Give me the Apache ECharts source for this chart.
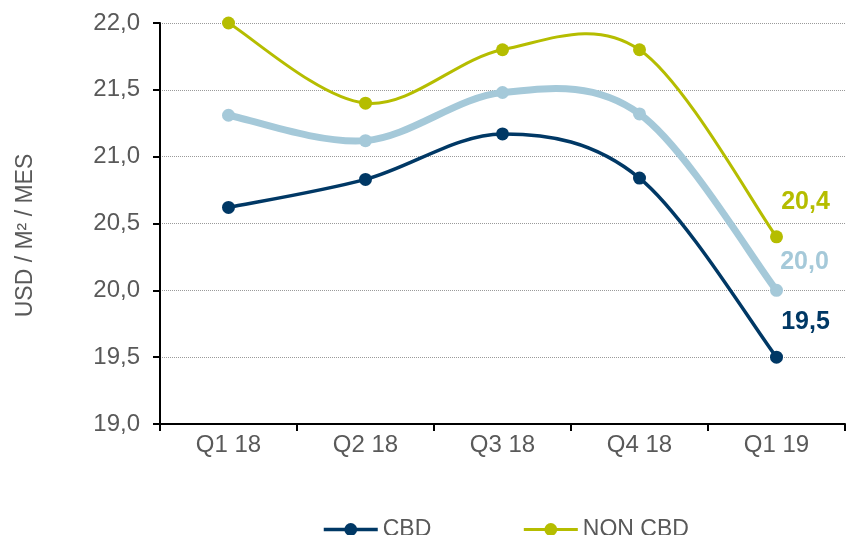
<!DOCTYPE html>
<html>
<head>
<meta charset="utf-8">
<script src="https://cdn.jsdelivr.net/npm/echarts@6/dist/echarts.min.js"></script>
<style>
html,body{margin:0;padding:0;background:#fff;}
#main{width:848px;height:535px;}
</style>
</head>
<body>
<div id="main"></div>
<script>
//数据
var categories = ['Q1 18', 'Q2 18', 'Q3 18', 'Q4 18', 'Q1 19'];
var cbd = [20.62, 20.83, 21.17, 20.84, 19.5];
var total = [21.31, 21.12, 21.48, 21.32, 20.0];
var nonCbd = [22.0, 21.4, 21.8, 21.8, 20.4];
var yTicks = [19.0, 19.5, 20.0, 20.5, 21.0, 21.5, 22.0];

var colors = { cbd: '#003865', total: '#a5c9d9', nonCbd: '#b5bd00' };

var chart = echarts.init(document.getElementById('main'));
var font = 'Liberation Sans, Arial, sans-serif';
var gray = '#595959';

//只在最后一个点显示数值
function lastLabel(arr, color, offset){
	return arr.map(function(v, i){
		if (i !== arr.length - 1) return v;
		return {
			value: v,
			label: {
				show: true,
				position: 'inside',
				offset: offset,
				color: color,
				fontSize: 25,
				fontWeight: 'bold',
				fontFamily: font,
				formatter: function(p){ return p.value.toFixed(1).replace('.', ','); }
			}
		};
	});
}

//点和标签（线本身由下面的平滑曲线画）
function pointSeries(name, arr, color, offset, z){
	return {
		name: name,
		type: 'line',
		symbol: 'circle',
		symbolSize: 13,
		z: z,
		lineStyle: { color: color, opacity: 0 },
		itemStyle: { color: color },
		data: lastLabel(arr, color, offset)
	};
}

//类似 Excel 的平滑曲线 (Catmull-Rom -> bezier)
function curveSeries(arr, color, width, z){
	return {
		type: 'custom',
		z: z,
		silent: true,
		data: arr.map(function(v, i){ return [i, v]; }),
		renderItem: function(params, api){
			if (params.dataIndex !== 0) return null;
			var p = arr.map(function(v, i){ return api.coord([i, v]); });
			var d = 'M' + p[0][0] + ' ' + p[0][1];
			for (var i = 0; i < p.length - 1; i++){
				var p0 = p[Math.max(i - 1, 0)], p1 = p[i], p2 = p[i + 1], p3 = p[Math.min(i + 2, p.length - 1)];
				var c1x = p1[0] + (p2[0] - p0[0]) / 6, c1y = p1[1] + (p2[1] - p0[1]) / 6;
				var c2x = p2[0] - (p3[0] - p1[0]) / 6, c2y = p2[1] - (p3[1] - p1[1]) / 6;
				d += ' C' + c1x + ' ' + c1y + ' ' + c2x + ' ' + c2y + ' ' + p2[0] + ' ' + p2[1];
			}
			return {
				type: 'path',
				shape: { pathData: d },
				style: { fill: null, stroke: color, lineWidth: width, lineJoin: 'round', lineCap: 'round' }
			};
		}
	};
}

var option = {
	backgroundColor: '#fff',
	animation: false,
	grid: { left: 160, right: 3, top: 23, bottom: 111 },
	legend: {
		data: [
			{ name: 'CBD', lineStyle: { opacity: 1, width: 3.5, color: colors.cbd } },
			{ name: 'NON CBD', lineStyle: { opacity: 1, width: 3, color: colors.nonCbd } }
		],
		left: 322,
		top: 518,
		padding: 0,
		itemWidth: 54,
		itemHeight: 16,
		itemGap: 91,
		textStyle: { color: gray, fontSize: 23, fontFamily: font }
	},
	xAxis: {
		type: 'category',
		data: categories,
		boundaryGap: true,
		axisLine: { lineStyle: { color: '#000', width: 2 } },
		axisTick: { show: true, length: 7, lineStyle: { color: '#000', width: 2 } },
		axisLabel: { color: gray, fontSize: 24, fontFamily: font, margin: 9 }
	},
	yAxis: {
		type: 'value',
		min: yTicks[0],
		max: yTicks[yTicks.length - 1],
		interval: 0.5,
		name: 'USD / M² / MES',
		nameLocation: 'middle',
		nameGap: 123,
		nameRotate: 90,
		nameTextStyle: { color: gray, fontSize: 23, fontFamily: font, padding: [0, 24, 0, 0] },
		axisLine: { show: true, lineStyle: { color: '#000', width: 2 } },
		axisTick: { show: true, length: 7, lineStyle: { color: '#000', width: 2 } },
		axisLabel: {
			color: gray, fontSize: 24, fontFamily: font, margin: 20,
			formatter: function(v){ return v.toFixed(1).replace('.', ','); }
		},
		splitLine: { lineStyle: { color: '#9a9a9a', type: 'dotted', width: 1 } }
	},
	series: [
		curveSeries(total, colors.total, 7, 2),
		curveSeries(cbd, colors.cbd, 3.5, 3),
		curveSeries(nonCbd, colors.nonCbd, 3, 4),
		pointSeries('TOTAL', total, colors.total, [28, -28], 5),
		pointSeries('CBD', cbd, colors.cbd, [29, -35], 6),
		pointSeries('NON CBD', nonCbd, colors.nonCbd, [29, -35], 7)
	]
};
chart.setOption(option);
</script>
</body>
</html>
